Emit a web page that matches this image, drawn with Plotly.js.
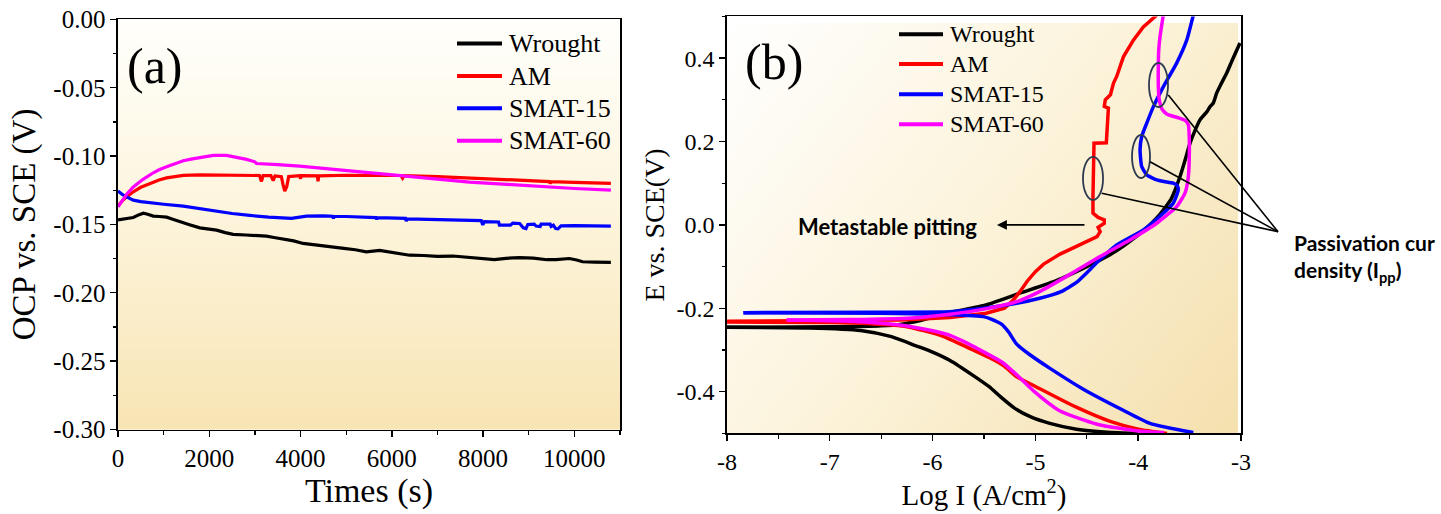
<!DOCTYPE html>
<html><head><meta charset="utf-8">
<script src="https://cdn.plot.ly/plotly-3.0.1.min.js"></script>
<style>html,body{margin:0;padding:0;background:#fff;}#chart{width:1441px;height:514px;}</style>
</head><body><div id="chart"></div>
<script>
// ---------- series ----------
const seriesNames = ['Wrought', 'AM', 'SMAT-15', 'SMAT-60'];
const seriesColors = ['#000000', '#ff0000', '#0000ff', '#ff00ff'];

// ---------- (a) OCP vs time ----------
const timeWrought = [0,150,335,450,554,650,773,900,1065,1200,1357,1550,1794,1950,2159,2350,2523,2800,3050,3253,3450,3691,3850,4055,4300,4500,4711,4950,5200,5441,5733,5950,6170,6389,6700,7000,7337,7600,7900,8100,8249,8500,8796,9100,9400,9600,9890,10050,10181,10450,10800];
const ocpWrought = [-0.1466,-0.1458,-0.1449,-0.1430,-0.1418,-0.1425,-0.1439,-0.1442,-0.1447,-0.1462,-0.1481,-0.1500,-0.1525,-0.1530,-0.1542,-0.1560,-0.1573,-0.1577,-0.1582,-0.1586,-0.1597,-0.1608,-0.1620,-0.1639,-0.1650,-0.1657,-0.1669,-0.1675,-0.1685,-0.1700,-0.1690,-0.1700,-0.1712,-0.1725,-0.1727,-0.1733,-0.1731,-0.1737,-0.1745,-0.1750,-0.1757,-0.1748,-0.1742,-0.1746,-0.1758,-0.1757,-0.1749,-0.1760,-0.1773,-0.1776,-0.1778];

const timeAM = [0,100,200,335,500,700,900,1065,1250,1430,1800,2159,2500,2900,3100,3144,3180,3350,3400,3440,3580,3620,3654,3700,3740,3980,4000,4020,4370,4383,4400,5000,5514,6200,6236,6270,7000,7700,8424,9000,9452,9470,9490,10000,10500,10800];
const ocpAM = [-0.1366,-0.1325,-0.1295,-0.1261,-0.1228,-0.1200,-0.1175,-0.1159,-0.1148,-0.1141,-0.1138,-0.1139,-0.1140,-0.1141,-0.1142,-0.1185,-0.1142,-0.1143,-0.1180,-0.1145,-0.1150,-0.1215,-0.1256,-0.1220,-0.1150,-0.1143,-0.1165,-0.1143,-0.1144,-0.1185,-0.1144,-0.1140,-0.1139,-0.1142,-0.1162,-0.1143,-0.1150,-0.1160,-0.1172,-0.1180,-0.1186,-0.1200,-0.1187,-0.1192,-0.1197,-0.1200];

const timeS15 = [0,100,190,335,500,700,1000,1430,1800,2159,2500,2888,3300,3800,3950,4128,4500,4700,4720,4740,5000,5500,5650,5670,5690,6300,6316,6340,7000,7701,7960,7993,8030,8340,8358,8600,8650,8800,8880,8940,8980,9120,9161,9250,9271,9470,9490,9540,9590,9640,9708,10000,10400,10800];
const ocpS15 = [-0.1255,-0.1282,-0.1298,-0.1322,-0.1333,-0.1342,-0.1352,-0.1366,-0.1385,-0.1403,-0.1420,-0.1434,-0.1447,-0.1456,-0.1448,-0.1439,-0.1437,-0.1440,-0.1455,-0.1440,-0.1442,-0.1448,-0.1450,-0.1462,-0.1450,-0.1455,-0.1475,-0.1460,-0.1463,-0.1469,-0.1472,-0.1503,-0.1480,-0.1482,-0.1505,-0.1505,-0.1490,-0.1493,-0.1525,-0.1530,-0.1500,-0.1498,-0.1512,-0.1515,-0.1498,-0.1498,-0.1515,-0.1505,-0.1530,-0.1532,-0.1510,-0.1508,-0.1510,-0.1512];

const timeS60 = [0,100,200,335,550,773,900,1065,1250,1430,1600,1794,2086,2378,2600,2816,2998,3034,3500,3982,4500,5076,5514,6170,6973,7700,8431,9200,10000,10800];
const ocpS60 = [-0.1371,-0.1320,-0.1275,-0.1225,-0.1170,-0.1122,-0.1100,-0.1078,-0.1055,-0.1034,-0.1022,-0.1010,-0.0995,-0.0995,-0.1008,-0.1024,-0.1042,-0.1054,-0.1063,-0.1073,-0.1090,-0.1108,-0.1125,-0.1145,-0.1171,-0.1190,-0.1205,-0.1222,-0.1237,-0.1249];

const ocpTickVals = [0, -0.05, -0.10, -0.15, -0.20, -0.25, -0.30];
const ocpTickText = ['0.00', '-0.05', '-0.10', '-0.15', '-0.20', '-0.25', '-0.30'];
const timeTickVals = [0, 2000, 4000, 6000, 8000, 10000];
const timeTickText = ['0', '2000', '4000', '6000', '8000', '10000'];

// ---------- (b) polarization curves: cathodic branch (bottom -> Ecorr) and anodic branch (Ecorr -> top) ----------
const logIWroughtCath = [-4.0,-4.3,-4.6,-4.86,-5.05,-5.2,-5.34,-5.45,-5.6,-5.83,-6.0,-6.16,-6.4,-6.7,-7.2,-8.0];
const eWroughtCath = [-0.500,-0.497,-0.490,-0.476,-0.460,-0.440,-0.412,-0.388,-0.362,-0.325,-0.305,-0.290,-0.268,-0.253,-0.247,-0.2456];
const logIWroughtAnod = [-8.0,-7.0,-6.5,-6.3,-6.1,-5.83,-5.48,-5.13,-4.79,-4.5,-4.3,-4.14,-3.95,-3.8,-3.68,-3.593,-3.55,-3.496,-3.45,-3.399,-3.33,-3.30,-3.27,-3.237,-3.2,-3.139,-3.08,-3.010];
const eWroughtAnod = [-0.2456,-0.2445,-0.242,-0.238,-0.228,-0.210,-0.192,-0.162,-0.133,-0.100,-0.075,-0.050,-0.014,0.022,0.062,0.116,0.150,0.196,0.225,0.252,0.272,0.284,0.292,0.316,0.335,0.364,0.398,0.436];

const logIAMCath = [-3.72,-4.0,-4.265,-4.613,-4.995,-5.182,-5.307,-5.45,-5.64,-5.91,-6.25,-6.6,-7.0,-8.0];
const eAMCath = [-0.500,-0.490,-0.472,-0.436,-0.388,-0.364,-0.338,-0.318,-0.296,-0.266,-0.244,-0.237,-0.234,-0.233];
const logIAMAnod = [-8.0,-7.0,-6.3,-5.83,-5.48,-5.3,-5.215,-5.15,-5.08,-5.0,-4.92,-4.76,-4.6,-4.5,-4.40,-4.37,-4.39,-4.33,-4.33,-4.39,-4.44,-4.44,-4.437,-4.43,-4.31,-4.30,-4.29,-4.33,-4.32,-4.27,-4.24,-4.209,-4.144,-4.047,-3.95,-3.82];
const eAMAnod = [-0.231,-0.230,-0.228,-0.222,-0.212,-0.200,-0.180,-0.160,-0.135,-0.112,-0.094,-0.070,-0.052,-0.040,-0.028,-0.016,-0.006,0.004,0.012,0.018,0.028,0.068,0.140,0.196,0.197,0.240,0.280,0.284,0.300,0.312,0.340,0.356,0.403,0.443,0.475,0.503];

const logIS15Cath = [-3.464,-3.885,-4.15,-4.534,-4.858,-5.05,-5.182,-5.263,-5.33,-5.43,-5.507,-5.831,-6.5,-7.84];
const eS15Cath = [-0.498,-0.476,-0.444,-0.394,-0.344,-0.312,-0.286,-0.256,-0.238,-0.226,-0.220,-0.2155,-0.212,-0.2105];
const logIS15Anod = [-7.84,-6.5,-5.831,-5.507,-5.182,-4.958,-4.75,-4.6,-4.5,-4.38,-4.209,-3.95,-3.756,-3.659,-3.61,-3.62,-3.659,-3.75,-3.82,-3.917,-3.966,-3.982,-3.966,-3.917,-3.853,-3.756,-3.626,-3.528,-3.464];
const eS15Anod = [-0.2105,-0.2095,-0.2085,-0.200,-0.188,-0.176,-0.160,-0.138,-0.115,-0.085,-0.048,-0.012,0.028,0.052,0.084,0.094,0.100,0.104,0.108,0.120,0.140,0.180,0.212,0.244,0.283,0.331,0.388,0.443,0.503];

const logIS60Cath = [-3.75,-4.0,-4.40,-4.77,-5.01,-5.18,-5.32,-5.5,-5.66,-5.83,-6.0,-6.32,-6.8,-7.42];
const eS60Cath = [-0.498,-0.494,-0.478,-0.445,-0.400,-0.360,-0.330,-0.305,-0.284,-0.265,-0.254,-0.240,-0.231,-0.228];
const logIS60Anod = [-7.42,-6.8,-6.2,-5.83,-5.5,-5.18,-4.96,-4.70,-4.372,-4.08,-3.82,-3.626,-3.545,-3.512,-3.502,-3.505,-3.512,-3.54,-3.6,-3.723,-3.77,-3.795,-3.804,-3.804,-3.80,-3.788,-3.756];
const eS60Anod = [-0.228,-0.227,-0.223,-0.214,-0.202,-0.184,-0.160,-0.124,-0.076,-0.036,0.004,0.044,0.076,0.116,0.180,0.220,0.240,0.250,0.256,0.266,0.278,0.300,0.331,0.388,0.420,0.451,0.503];

const logITickVals = [-8, -7, -6, -5, -4, -3];
const logITickText = ['-8', '-7', '-6', '-5', '-4', '-3'];
const eTickVals = [-0.4, -0.2, 0.0, 0.2, 0.4];
const eTickText = ['-0.4', '-0.2', '0.0', '0.2', '0.4'];

// Ellipses marking passivation current density (logI min/max, E min/max)
const ippMarkers = [
  {x0: -4.537, x1: -4.342, y0: 0.060, y1: 0.163},
  {x0: -4.060, x1: -3.885, y0: 0.1125, y1: 0.2156},
  {x0: -3.895, x1: -3.710, y0: 0.2827, y1: 0.3883}
];

// ---------- helpers ----------
const W = 1441, H = 514;
const pxX = v => v / W;
const pxY = v => 1 - v / H;
const SERIF = '"Liberation Serif", "Times New Roman", serif';
const SANS = 'Lato, "Noto Sans", sans-serif';

function gradientURL(w, h, coords, stops) {
  const c = document.createElement('canvas');
  c.width = w; c.height = h;
  const ctx = c.getContext('2d');
  const g = ctx.createLinearGradient(coords[0], coords[1], coords[2], coords[3]);
  stops.forEach(s => g.addColorStop(s[0], s[1]));
  ctx.fillStyle = g;
  ctx.fillRect(0, 0, w, h);
  return c.toDataURL('image/png');
}

// plot area pixel boxes
const boxA = {l: 118, r: 620, t: 19.4, b: 429.5};
const boxB = {l: 727, r: 1241, t: 16.4, b: 433.4};

const traces = [];
const ocpT = [timeWrought, timeAM, timeS15, timeS60];
const ocpV = [ocpWrought, ocpAM, ocpS15, ocpS60];
for (let i = 0; i < 4; i++) {
  traces.push({x: ocpT[i], y: ocpV[i], type: 'scatter', mode: 'lines', name: seriesNames[i],
    line: {color: seriesColors[i], width: 3.2}, xaxis: 'x', yaxis: 'y', showlegend: false});
}
const polCath = [[logIWroughtCath, eWroughtCath], [logIAMCath, eAMCath], [logIS15Cath, eS15Cath], [logIS60Cath, eS60Cath]];
const polAnod = [[logIWroughtAnod, eWroughtAnod], [logIAMAnod, eAMAnod], [logIS15Anod, eS15Anod], [logIS60Anod, eS60Anod]];
for (let i = 0; i < 4; i++) {
  traces.push({x: polCath[i][0], y: polCath[i][1], type: 'scatter', mode: 'lines', name: seriesNames[i],
    line: {color: seriesColors[i], width: 3.5, shape: 'spline', smoothing: 0.6}, xaxis: 'x2', yaxis: 'y2', showlegend: false});
  traces.push({x: polAnod[i][0], y: polAnod[i][1], type: 'scatter', mode: 'lines', name: seriesNames[i],
    line: {color: seriesColors[i], width: 3.5, shape: i === 1 ? 'linear' : 'spline', smoothing: 0.5}, xaxis: 'x2', yaxis: 'y2', showlegend: false});
}

const shapes = [];
const annotations = [];

// manual legends
const legendA = {x0: 457, x1: 502, tx: 507, rows: [43.5, 76, 108.3, 140.7], size: 26};
const legendB = {x0: 899, x1: 943, tx: 948, rows: [34.3, 64, 94.3, 124.3], size: 24};
[legendA, legendB].forEach(L => {
  for (let i = 0; i < 4; i++) {
    shapes.push({type: 'line', xref: 'paper', yref: 'paper', x0: pxX(L.x0), x1: pxX(L.x1), y0: pxY(L.rows[i]), y1: pxY(L.rows[i]),
      line: {color: seriesColors[i], width: 4}});
    annotations.push({xref: 'paper', yref: 'paper', x: pxX(L.tx), y: pxY(L.rows[i]), xanchor: 'left', yanchor: 'middle',
      text: seriesNames[i], showarrow: false, font: {family: SERIF, size: L.size, color: '#000'}});
  }
});

// panel labels
annotations.push({xref: 'paper', yref: 'paper', x: pxX(155), y: pxY(66), text: '(a)', showarrow: false,
  xanchor: 'center', yanchor: 'middle', font: {family: SERIF, size: 50, color: '#000'}});
annotations.push({xref: 'paper', yref: 'paper', x: pxX(774), y: pxY(62), text: '(b)', showarrow: false,
  xanchor: 'center', yanchor: 'middle', font: {family: SERIF, size: 50, color: '#000'}});

// Metastable pitting
annotations.push({xref: 'paper', yref: 'paper', x: pxX(887), y: pxY(226), text: '<b>Metastable pitting</b>', showarrow: false,
  xanchor: 'center', yanchor: 'middle', font: {family: SANS, size: 22, color: '#000'}});
annotations.push({xref: 'x2', yref: 'y2', x: -5.374, y: 0.0, axref: 'x2', ayref: 'y2', ax: -4.508, ay: 0.0, text: '',
  showarrow: true, arrowhead: 2, arrowsize: 1.1, arrowwidth: 1.8, arrowcolor: '#000'});

// Passivation text (the reference image is cropped right after "cur")
annotations.push({xref: 'paper', yref: 'paper', x: pxX(1292), y: pxY(258), xanchor: 'left', yanchor: 'middle', align: 'left',
  text: '<b>Passivation cur<br>density (I<sub>pp</sub>)</b>', showarrow: false, font: {family: SANS, size: 21, color: '#000'}});

// ellipses
ippMarkers.forEach(m => shapes.push({type: 'circle', xref: 'x2', yref: 'y2', x0: m.x0, x1: m.x1, y0: m.y0, y1: m.y1,
  line: {color: '#2c3a50', width: 1.8}}));
// pointer lines
const focus = [1278, 231.7];
const pointerStarts = [[1101.7, 193.3], [1150, 161.7], [1168.3, 95]];
pointerStarts.forEach(p => shapes.push({type: 'line', xref: 'paper', yref: 'paper', x0: pxX(p[0]), y0: pxY(p[1]),
  x1: pxX(focus[0]), y1: pxY(focus[1]), line: {color: '#000', width: 1.6}}));

// backgrounds
const imgA = gradientURL(502, 410, [0, 0, 0, 410], [[0, '#fffffc'], [0.45, '#fdf5de'], [1, '#f8e5b4']]);
const imgB = gradientURL(514, 410, [0, 0, 514, 410], [[0, '#ffffff'], [0.5, '#fcf3da'], [1, '#f5e0ae']]);
const images = [
  {source: imgA, xref: 'paper', yref: 'paper', x: pxX(boxA.l), y: pxY(boxA.t), sizex: (boxA.r - boxA.l) / W, sizey: (boxA.b - boxA.t) / H,
    xanchor: 'left', yanchor: 'top', sizing: 'stretch', layer: 'below'},
  {source: imgB, xref: 'paper', yref: 'paper', x: pxX(boxB.l), y: pxY(23), sizex: (boxB.r - 3 - boxB.l) / W, sizey: (boxB.b - 23) / H,
    xanchor: 'left', yanchor: 'top', sizing: 'stretch', layer: 'below'}
];

const axisCommon = {showgrid: false, zeroline: false, showline: true, linecolor: '#000', linewidth: 1.6, mirror: true,
  ticks: 'outside', ticklen: 6, tickwidth: 1.4, tickcolor: '#000', tickmode: 'array'};

const layout = {
  width: W, height: H,
  margin: {l: 0, r: 0, t: 0, b: 0},
  font: {family: SERIF, color: '#000', size: 24},
  paper_bgcolor: '#ffffff', plot_bgcolor: 'rgba(0,0,0,0)',
  showlegend: false,
  xaxis: Object.assign({}, axisCommon, {domain: [pxX(boxA.l), pxX(boxA.r)], range: [0, 11000], anchor: 'y',
    tickvals: timeTickVals, ticktext: timeTickText, tickfont: {family: SERIF, size: 25, color: '#000'},
    minor: {tickmode: 'linear', tick0: 0, dtick: 1000, ticks: 'outside', ticklen: 3.5, tickwidth: 1.2, tickcolor: '#000'},
    title: {text: 'Times (s)', font: {family: SERIF, size: 34, color: '#000'}, standoff: 4}}),
  yaxis: Object.assign({}, axisCommon, {domain: [pxY(boxA.b), pxY(boxA.t)], range: [-0.30, 0.0], anchor: 'x',
    tickvals: ocpTickVals, ticktext: ocpTickText, tickfont: {family: SERIF, size: 25, color: '#000'},
    minor: {tickmode: 'linear', tick0: 0, dtick: 0.025, ticks: 'outside', ticklen: 3.5, tickwidth: 1.2, tickcolor: '#000'},
    title: {text: 'OCP vs. SCE (V)', font: {family: SERIF, size: 33, color: '#000'}, standoff: 8}}),
  xaxis2: Object.assign({}, axisCommon, {domain: [pxX(boxB.l), pxX(boxB.r)], range: [-8, -3], anchor: 'y2',
    tickvals: logITickVals, ticktext: logITickText, tickfont: {family: SERIF, size: 24, color: '#000'},
    minor: {tickmode: 'linear', tick0: -8, dtick: 0.5, ticks: 'outside', ticklen: 3.5, tickwidth: 1.2, tickcolor: '#000'},
    title: {text: 'Log I (A/cm<sup>2</sup>)', font: {family: SERIF, size: 29, color: '#000'}, standoff: 6}}),
  yaxis2: Object.assign({}, axisCommon, {domain: [pxY(boxB.b), pxY(boxB.t)], range: [-0.5, 0.5], anchor: 'x2',
    tickvals: eTickVals, ticktext: eTickText, tickfont: {family: SERIF, size: 24, color: '#000'},
    minor: {tickmode: 'linear', tick0: 0, dtick: 0.1, ticks: 'outside', ticklen: 3.5, tickwidth: 1.2, tickcolor: '#000'},
    title: {text: 'E vs. SCE(V)', font: {family: SERIF, size: 28, color: '#000'}, standoff: 4}}),
  shapes: shapes,
  annotations: annotations,
  images: images
};

Plotly.newPlot('chart', traces, layout, {staticPlot: true, displayModeBar: false});
</script>
</body></html>
